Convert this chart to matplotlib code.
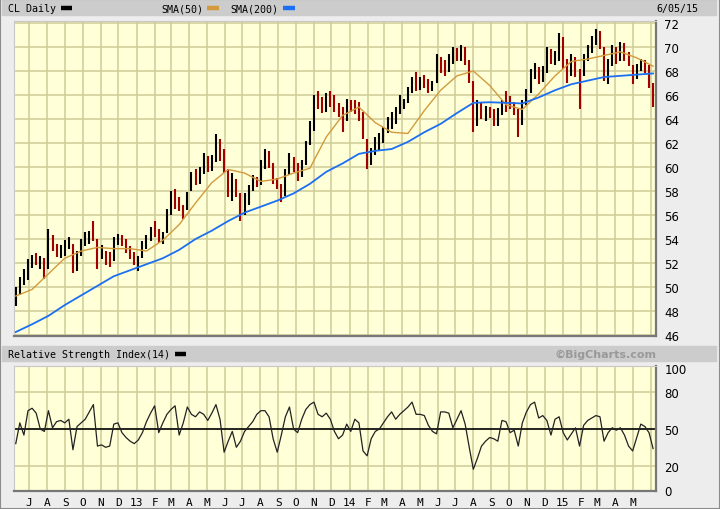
import matplotlib
matplotlib.use('Agg')
from matplotlib import pyplot as plt
from matplotlib.patches import Rectangle
from matplotlib.lines import Line2D
import matplotlib.dates as mdates
import pandas as pd

# weekly bars (Friday of each week)
weeks = pd.date_range('2012-06-08', '2015-06-05', freq='W-FRI')

high = [50.0, 50.8, 51.5, 52.3, 52.7, 52.8, 52.6, 52.4, 54.8, 54.3,
        53.6, 53.5, 53.9, 54.2, 53.6, 53.0, 54.0, 54.6, 54.7, 55.5,
        54.0, 53.5, 53.0, 52.9, 54.2, 54.4, 54.3, 54.0, 53.4, 52.9,
        52.6, 53.8, 54.3, 55.0, 55.5, 54.8, 54.6, 56.5, 58.0, 58.2,
        57.5, 56.8, 57.9, 59.6, 59.8, 60.0, 61.2, 60.9, 61.0, 62.75,
        62.3, 61.5, 59.8, 59.5, 59.0, 57.8, 57.8, 58.5, 59.3, 59.2,
        60.6, 61.5, 61.3, 60.3, 59.1, 58.6, 59.8, 61.2, 60.8, 60.3,
        60.6, 62.2, 63.8, 66.0, 66.3, 65.8, 66.2, 66.3, 66.0, 65.3,
        65.0, 65.7, 65.6, 65.6, 65.4, 64.6, 62.3, 61.6, 62.5, 62.8,
        63.3, 64.2, 64.6, 65.0, 66.0, 65.7, 66.7, 67.5, 67.9, 67.5,
        67.7, 67.3, 67.2, 69.4, 69.2, 68.9, 69.4, 70.0, 69.9, 70.2,
        70.0, 68.9, 67.2, 65.6, 65.4, 65.1, 65.0, 64.8, 64.9, 65.6,
        66.3, 65.9, 65.4, 64.8, 65.6, 66.5, 68.2, 68.7, 68.3, 68.4,
        70.0, 69.8, 69.7, 71.2, 70.8, 69.0, 69.4, 69.2, 68.2, 69.4,
        70.2, 70.9, 71.5, 71.3, 70.0, 69.0, 70.2, 70.0, 70.4, 70.3,
        69.6, 68.5, 68.6, 69.0, 68.9, 68.5, 67.0]

low = [48.4, 49.3, 50.2, 50.6, 51.6, 51.8, 51.5, 50.7, 51.5, 53.0,
       52.5, 52.4, 52.6, 53.2, 51.2, 51.3, 52.6, 53.4, 53.6, 53.8,
       51.5, 52.3, 51.8, 51.7, 52.2, 53.5, 53.4, 52.8, 52.3, 51.8,
       51.3, 52.4, 53.2, 53.8, 54.2, 53.7, 53.6, 54.5, 56.0, 56.5,
       56.3, 55.7, 56.4, 58.0, 58.5, 58.6, 59.4, 59.6, 59.7, 60.4,
       60.5, 59.5, 57.5, 57.2, 57.5, 55.5, 56.0, 56.8, 58.0, 58.3,
       58.5, 59.8, 59.9, 58.6, 58.2, 57.1, 57.6, 59.3, 59.6, 58.8,
       59.2, 60.2, 61.8, 63.0, 64.8, 64.5, 64.6, 65.0, 64.6, 64.2,
       62.9, 63.8, 64.6, 64.4, 63.8, 62.3, 59.8, 60.2, 61.0, 61.4,
       62.0, 62.8, 63.2, 63.6, 64.4, 64.8, 65.3, 66.2, 66.3, 66.4,
       66.6, 66.2, 66.3, 67.0, 67.8, 67.6, 67.9, 68.6, 68.8, 68.8,
       68.5, 67.0, 62.9, 63.4, 64.0, 63.8, 64.1, 63.4, 63.4, 64.3,
       64.6, 64.8, 64.3, 62.5, 63.5, 65.2, 66.2, 67.3, 66.9, 67.1,
       67.8, 68.6, 68.5, 68.8, 68.2, 67.0, 67.6, 67.5, 64.8, 67.6,
       68.8, 69.5, 70.2, 69.8, 67.2, 66.9, 68.4, 68.6, 68.8, 68.8,
       68.4, 66.9, 67.3, 68.0, 67.8, 66.6, 65.0]

close = [49.8, 50.5, 50.8, 52.0, 52.5, 52.0, 52.3, 51.0, 54.0, 53.3,
         53.0, 53.2, 53.5, 53.9, 51.5, 52.8, 53.7, 54.2, 54.3, 54.0,
         52.0, 52.8, 52.2, 52.0, 53.8, 53.9, 53.6, 53.0, 52.6, 52.0,
         52.4, 53.5, 54.0, 54.8, 54.6, 54.0, 54.3, 56.2, 57.6, 57.0,
         56.5, 56.4, 57.7, 59.3, 59.0, 59.6, 60.8, 60.0, 60.6, 62.3,
         61.0, 59.8, 58.0, 59.0, 58.0, 56.0, 57.5, 58.2, 59.0, 58.6,
         60.2, 61.0, 60.3, 58.9, 58.5, 57.5, 59.5, 60.8, 60.0, 59.4,
         60.3, 62.0, 63.4, 65.6, 65.2, 64.9, 65.8, 65.5, 65.0, 64.5,
         64.3, 65.3, 65.0, 64.8, 64.0, 62.6, 60.5, 61.3, 62.0, 62.2,
         63.1, 63.9, 64.0, 64.8, 65.3, 65.5, 66.5, 67.0, 66.8, 67.2,
         66.9, 66.5, 67.0, 68.8, 68.6, 68.0, 69.0, 69.3, 69.2, 69.8,
         68.8, 67.5, 64.0, 65.3, 64.6, 64.7, 64.6, 63.8, 64.5, 65.3,
         65.2, 65.0, 64.6, 63.3, 65.4, 66.3, 67.8, 68.0, 67.5, 68.0,
         69.5, 68.9, 69.2, 70.6, 68.6, 67.6, 68.9, 68.0, 67.8, 69.1,
         69.9, 70.4, 71.0, 70.2, 67.6, 68.7, 69.8, 69.0, 70.0, 69.3,
         68.7, 67.3, 68.3, 68.8, 68.0, 67.0, 65.0]

rsi = [38, 55, 45, 65, 67, 63, 50, 48, 65, 51,
       56, 57, 55, 58, 33, 52, 55, 58, 64, 70,
       36, 37, 35, 36, 54, 55, 47, 43, 40, 38,
       41, 47, 56, 63, 69, 47, 55, 62, 66, 69,
       45, 55, 68, 62, 60, 64, 62, 57, 63, 70,
       58, 31, 40, 48, 35, 40, 48, 52, 56, 62,
       65, 65, 60, 42, 31, 45, 60, 68, 50, 47,
       58, 66, 70, 72, 62, 60, 63, 58, 48, 42,
       45, 54, 48, 58, 55, 32, 28, 42, 48, 50,
       55, 60, 64, 58, 62, 65, 68, 72, 62, 62,
       61, 53, 48, 46, 64, 64, 63, 51, 58, 65,
       54, 35, 17, 26, 36, 40, 43, 42, 40, 57,
       56, 47, 49, 36, 55, 64, 70, 72, 59, 61,
       57, 45, 58, 60, 47, 41, 46, 51, 36, 53,
       57, 59, 61, 60, 40, 47, 51, 49, 51, 45,
       36, 32, 43, 54, 52, 47, 34]

# moving averages read every 4th week
sma_weeks = weeks[::4]
sma50 = [49.25, 49.8, 51.1, 52.4, 53.0, 53.3, 53.2, 53.2, 53.0, 53.9,
         55.2, 57.0, 58.7, 59.8, 59.5, 58.8, 59.0, 59.5, 59.9, 62.5,
         64.3, 65.0, 63.7, 62.9, 62.8, 64.7, 66.4, 67.6, 68.0, 66.8,
         65.2, 64.8, 66.1, 67.6, 68.8, 69.0, 69.3, 69.6, 69.1, 68.4]
sma200 = [46.25, 46.9, 47.6, 48.5, 49.3, 50.1, 50.9, 51.4, 51.9, 52.4,
          53.1, 54.0, 54.7, 55.5, 56.2, 56.7, 57.2, 57.8, 58.6, 59.6,
          60.3, 61.1, 61.35, 61.5, 62.1, 62.9, 63.6, 64.5, 65.35, 65.4,
          65.35, 65.3, 65.8, 66.4, 66.9, 67.2, 67.5, 67.6, 67.7, 67.8]

price_ticks = list(range(46, 73, 2))
rsi_ticks = [0, 20, 50, 80, 100]
months = pd.date_range('2012-07-01', '2015-06-01', freq='MS')
month_labels = [('%02d' % (m.year % 100)) if m.month == 1 else m.strftime('%b')[0]
                for m in months]
month_labels[-1] = ''

W, H = 720, 510
BG = '#FFFFD8'
GRID = '#CFCC98'
fig = plt.figure(figsize=(W / 100, H / 100), dpi=100, facecolor='#EDEDED')


def box(x0, y0, x1, y1):
    return [x0 / W, 1 - y1 / H, (x1 - x0) / W, (y1 - y0) / H]


def band(x0, y0, x1, y1, c):
    fig.add_artist(Rectangle((x0 / W, 1 - y1 / H), (x1 - x0) / W, (y1 - y0) / H,
                             transform=fig.transFigure, color=c, zorder=0))


def mark(x0, x1, y, c):
    fig.add_artist(Line2D([x0 / W, x1 / W], [1 - y / H, 1 - y / H],
                          transform=fig.transFigure, color=c, lw=3.2,
                          solid_capstyle='butt'))


band(2, 1, 716, 16, '#CCCCCC')
band(2, 347, 716, 362, '#CCCCCC')
fig.add_artist(Rectangle((0, 0), 1, 1, transform=fig.transFigure, fill=False,
                         ec='#8C8C8C', lw=1.5))

mono = 'DejaVu Sans Mono'
fs = 7.2
fig.text(8 / W, 1 - 9 / H, 'CL Daily', family=mono, fontsize=fs, va='center')
mark(61, 72, 8.5, 'black')
fig.text(161 / W, 1 - 9 / H, 'SMA(50)', family=mono, fontsize=fs, va='center')
mark(207, 219, 8.5, '#D29A3C')
fig.text(230 / W, 1 - 9 / H, 'SMA(200)', family=mono, fontsize=fs, va='center')
mark(283, 295, 8.5, '#1C6EF2')
fig.text(698 / W, 1 - 9 / H, '6/05/15', family=mono, fontsize=fs, va='center', ha='right')
fig.text(8 / W, 1 - 355 / H, 'Relative Strength Index(14)', family=mono,
         fontsize=fs, va='center')
mark(175, 186, 354.5, 'black')
fig.text(656 / W, 1 - 355 / H, '\u00a9BigCharts.com', fontsize=8, fontweight='bold',
         color='#999999', va='center', ha='right')

xlim = (mdates.date2num(pd.Timestamp('2012-06-05')),
        mdates.date2num(pd.Timestamp('2015-06-10')))

ax = fig.add_axes(box(14, 22, 656, 337))
ax2 = fig.add_axes(box(14, 367, 656, 492))

for a in (ax, ax2):
    a.set_facecolor(BG)
    a.set_xlim(xlim)
    a.set_xticks(months)
    a.grid(True, color=GRID, lw=1.1)
    a.set_axisbelow(True)
    a.yaxis.tick_right()
    a.tick_params(length=0, labelsize=8.5)
    for s in ('top', 'left'):
        a.spines[s].set_color('#C8C8C8')
    for s in ('bottom', 'right'):
        a.spines[s].set_color('#777777')
        a.spines[s].set_linewidth(1.6)

# price panel
colors = ['black' if i == 0 or close[i] >= close[i - 1] else '#A00000'
          for i in range(len(close))]
ax.vlines(weeks, low, high, colors=colors, lw=1.5, zorder=3)
ax.plot(sma_weeks, sma50, color='#D29A3C', lw=1.0, zorder=4)
ax.plot(sma_weeks, sma200, color='#1C6EF2', lw=1.3, zorder=4)
ax.set_ylim(45.92, 72.17)
ax.set_yticks(price_ticks)
ax.set_xticklabels([])
ax.tick_params(axis='y', pad=6)

# RSI panel
ax2.plot(weeks, rsi, color='#222222', lw=0.9, zorder=3)
ax2.axhline(50, color='black', lw=1.2, zorder=2)
ax2.set_ylim(-0.8, 101.6)
ax2.set_yticks(rsi_ticks)
ax2.set_yticklabels(['0', '20', '50', '80', '100'])
ax2.grid(False, axis='y')
for v in (20, 80):
    ax2.axhline(v, color=GRID, lw=1.1, zorder=1)
ax2.set_xticklabels(month_labels, family=mono, fontsize=8)
ax2.tick_params(axis='x', pad=4)
ax2.tick_params(axis='y', pad=6)

fig.savefig('out.png', dpi=100, facecolor=fig.get_facecolor())
